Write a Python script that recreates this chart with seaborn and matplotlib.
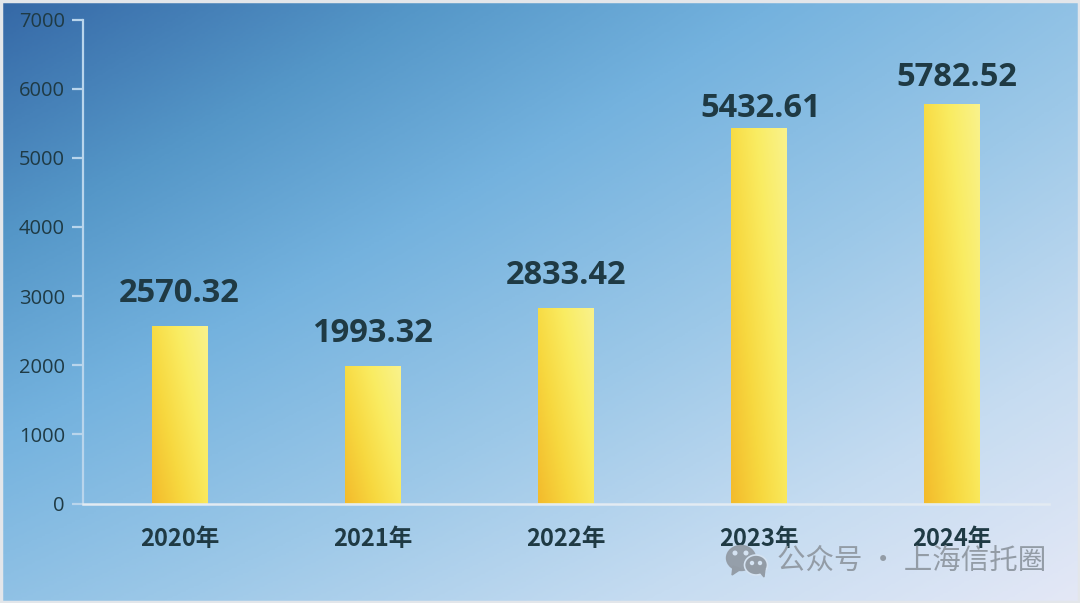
import matplotlib
matplotlib.use("Agg")
import matplotlib.pyplot as plt
import numpy as np
import pandas as pd
import seaborn as sns
from matplotlib.colors import LinearSegmentedColormap
from matplotlib.patches import Ellipse, Polygon, Rectangle

years = ["2020年", "2021年", "2022年", "2023年", "2024年"]
values = [2570.32, 1993.32, 2833.42, 5432.61, 5782.52]
yticks = [0, 1000, 2000, 3000, 4000, 5000, 6000, 7000]
# the labels do not sit evenly above the bars in the original
label_dx = [0, 0, 0, 2, 5]
label_dy = [32, 32, 32, 19, 26]

W, H = 1080, 603
TEXT = "#1f3a44"

sns.set_theme(style="white")
plt.rcParams["font.family"] = ["Noto Sans CJK SC", "DejaVu Sans"]

fig = plt.figure(figsize=(W / 100, H / 100), dpi=100)

# background gradient, dark blue top left to pale lavender bottom right
bg = fig.add_axes([0, 0, 1, 1], zorder=0)
bg_cmap = LinearSegmentedColormap.from_list(
    "bg", [(0, "#3568a6"), (0.22, "#5597c8"), (0.40, "#74b2de"), (0.62, "#9cc8e8"),
           (0.82, "#c6dcf1"), (1, "#e4e8f6")])
xx, yy = np.meshgrid(np.linspace(0, 1, 400), np.linspace(0, 1, 300))
bg.imshow(0.62 * xx + 0.62 * yy - 0.12 * xx * yy, cmap=bg_cmap, vmin=0, vmax=1.12, aspect="auto",
          extent=[0, W, H, 0])
bg.set_xlim(0, W)
bg.set_ylim(H, 0)
bg.axis("off")
bg.add_patch(Rectangle((1, 1), W - 2, H - 2, fill=False, ec="#e3e6ea", lw=2.5))

ax = fig.add_axes([83 / W, (H - 503.5) / H, 965.5 / W, 484 / H], zorder=1)
ax.patch.set_alpha(0)
df = pd.DataFrame({"year": years, "value": values})
sns.barplot(data=df, x="year", y="value", ax=ax, width=0.29, color="#f8e060", saturation=1)
ax.set_ylim(0, 7000)
ax.set_xlim(-0.5, 4.5)
ax.set_yticks(yticks)
ax.set_xlabel("")
ax.set_ylabel("")
sns.despine(ax=ax)
ax.spines["left"].set_color("#b9d5ec")
ax.spines["left"].set_linewidth(1.6)
ax.spines["bottom"].set_color("#e3ebf2")
ax.spines["bottom"].set_linewidth(1.8)
ax.tick_params(axis="y", length=8, width=1.6, color="#b9d5ec", pad=5, labelsize=14.5, labelcolor=TEXT, left=True)
ax.tick_params(axis="x", length=0, pad=17, labelsize=17, labelcolor=TEXT)
for lab in ax.get_xticklabels():
    lab.set_fontweight("bold")
for lab in ax.get_yticklabels():
    lab.set_family(["Open Sans", "DejaVu Sans"])

# yellow gradient on each bar, clipped to the bar
bar_cmap = LinearSegmentedColormap.from_list("bar", ["#f3bb2c", "#f7d83f", "#faec62", "#f9f28c"])
for bar in ax.patches:
    x0, y0, bw, bh = bar.get_bbox().bounds
    u, v = np.meshgrid(np.linspace(0, 1, 60), np.linspace(0, 1, 200))
    grad = 0.6 * u + 0.4 * v
    im = ax.imshow(grad, cmap=bar_cmap, vmin=0, vmax=1, origin="lower", aspect="auto",
                   extent=[x0, x0 + bw, y0, y0 + bh], zorder=3)
    im.set_clip_path(bar)
    bar.set_edgecolor("none")
ax.set_xlim(-0.5, 4.5)
ax.set_ylim(0, 7000)
ax.set_aspect("auto")

for i, v in enumerate(values):
    ax.annotate(f"{v:.2f}", (i, v), xytext=(label_dx[i], label_dy[i]), textcoords="offset pixels",
                ha="center", va="center", fontsize=23.5, fontweight="bold", color=TEXT,
                family=["Open Sans", "DejaVu Sans"], zorder=5)

# watermark on top
wm = fig.add_axes([0, 0, 1, 1], zorder=2)
wm.set_xlim(0, W)
wm.set_ylim(H, 0)
wm.axis("off")
grey = "#939ca6"
wm.add_patch(Ellipse((741, 558), 29, 25, color=grey, alpha=0.95))
wm.add_patch(Polygon([(733, 566), (732, 575), (741, 569)], color=grey))
wm.add_patch(Ellipse((756, 565), 23, 20, color=grey, ec="#d5e3f2", lw=1.2))
wm.add_patch(Polygon([(760, 572), (764, 577), (765, 569)], color=grey))
for cx, cy, r in [(735, 553, 1.8), (746, 553, 1.8), (752, 563, 1.5), (760, 563, 1.5)]:
    wm.add_patch(Ellipse((cx, cy), 2 * r, 2 * r, color="#d5e3f2"))
wm.text(777, 561, "公众号 · 上海信托圈", fontsize=20.5, color=grey, ha="left", va="center",
        family=["Noto Sans CJK SC", "DejaVu Sans"])

fig.savefig("out.png", dpi=100)
